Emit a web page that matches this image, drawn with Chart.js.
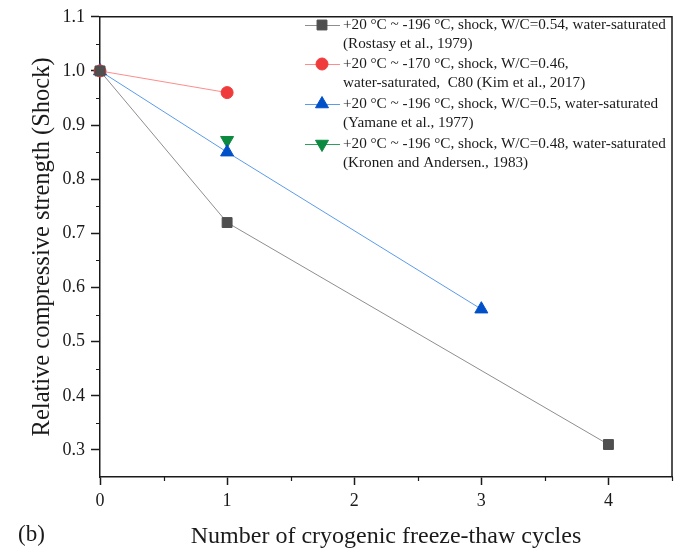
<!DOCTYPE html>
<html>
<head>
<meta charset="utf-8">
<script src="https://cdn.jsdelivr.net/npm/chart.js@4.4.0/dist/chart.umd.min.js"></script>
<style>
  html, body { margin: 0; padding: 0; background: #fff; }
  #wrap { width: 681px; height: 548px; }
</style>
</head>
<body>
<div id="wrap"><canvas id="myChart" width="681" height="548"></canvas></div>
<script>
// x ticks (cycles) and y ticks
const xTickValues = [0, 1, 2, 3, 4];
const yTickValues = [0.3, 0.4, 0.5, 0.6, 0.7, 0.8, 0.9, 1.0, 1.1];

// series
const rostasyX = [0, 1, 4];
const rostasyY = [1.0, 0.72, 0.31];
const kimX = [0, 1];
const kimY = [1.0, 0.96];
const yamaneX = [0, 1, 3];
const yamaneY = [1.0, 0.85, 0.56];
const kronenX = [1];
const kronenY = [0.872];

const legendLine1 = [
  '+20 °C ~ -196 °C, shock, W/C=0.54, water-saturated',
  '+20 °C ~ -170 °C, shock, W/C=0.46,',
  '+20 °C ~ -196 °C, shock, W/C=0.5, water-saturated',
  '+20 °C ~ -196 °C, shock, W/C=0.48, water-saturated'
];
const legendLine2 = [
  '(Rostasy et al., 1979)',
  'water-saturated,  C80 (Kim et al., 2017)',
  '(Yamane et al., 1977)',
  '(Kronen and Andersen., 1983)'
];

const serif = '"Liberation Serif", "Times New Roman", serif';
const ink = '#1a1a1a';

const toPoints = (xs, ys) => xs.map((x, i) => ({ x, y: ys[i] }));

const datasets = [
  {
    label: legendLine1[0],
    data: toPoints(rostasyX, rostasyY),
    borderColor: '#8e8e8e',
    backgroundColor: '#4f4f4f',
    pointBorderColor: '#4f4f4f',
    pointStyle: 'rect',
    pointRadius: 7,
    rotation: 0
  },
  {
    label: legendLine1[1],
    data: toPoints(kimX, kimY),
    borderColor: '#ff8c8c',
    backgroundColor: '#ef3b3b',
    pointBorderColor: '#ef3b3b',
    pointStyle: 'circle',
    pointRadius: 6,
    rotation: 0
  },
  {
    label: legendLine1[2],
    data: toPoints(yamaneX, yamaneY),
    borderColor: '#5b9bea',
    backgroundColor: '#0050c8',
    pointBorderColor: '#0050c8',
    pointStyle: 'triangle',
    pointRadius: 7.5,
    rotation: 0
  },
  {
    label: legendLine1[3],
    data: toPoints(kronenX, kronenY),
    borderColor: '#2f9e5c',
    backgroundColor: '#0c8a40',
    pointBorderColor: '#0c8a40',
    pointStyle: 'triangle',
    pointRadius: 7.5,
    rotation: 180
  }
].map(d => ({ ...d, showLine: true, clip: false, borderWidth: 1, pointBorderWidth: 1, pointHoverRadius: d.pointRadius, pointRotation: d.rotation }));

// frame on top/right, minor ticks, custom legend, panel letter
const decorations = {
  id: 'decorations',
  afterDraw(chart) {
    const { ctx, chartArea: a, scales } = chart;
    ctx.save();
    ctx.strokeStyle = ink;
    ctx.lineWidth = 1.5;
    ctx.beginPath();
    ctx.moveTo(a.left, a.top);
    ctx.lineTo(a.right, a.top);
    ctx.lineTo(a.right, a.bottom);
    ctx.stroke();

    // minor ticks
    ctx.lineWidth = 1.2;
    ctx.beginPath();
    for (let v = 0.35; v < 1.1; v += 0.1) {
      const y = Math.round(scales.y.getPixelForValue(v)) + 0.5;
      ctx.moveTo(a.left, y);
      ctx.lineTo(a.left - 4, y);
    }
    for (let v = 0.5; v <= 4.5; v += 1) {
      const x = Math.round(scales.x.getPixelForValue(v)) + 0.5;
      ctx.moveTo(x, a.bottom);
      ctx.lineTo(x, a.bottom + 4);
    }
    ctx.stroke();

    // legend
    const rowY = [25, 64, 104, 144];
    ctx.font = '15.2px ' + serif;
    ctx.textBaseline = 'middle';
    ctx.textAlign = 'left';
    chart.data.datasets.forEach((ds, i) => {
      const y = rowY[i];
      ctx.strokeStyle = ds.borderColor;
      ctx.lineWidth = 1;
      ctx.beginPath();
      ctx.moveTo(305, y + 0.5);
      ctx.lineTo(340, y + 0.5);
      ctx.stroke();
      ctx.fillStyle = ds.backgroundColor;
      ctx.strokeStyle = ds.pointBorderColor;
      Chart.helpers.drawPoint(ctx, {
        pointStyle: ds.pointStyle,
        radius: ds.pointRadius,
        rotation: ds.rotation,
        borderWidth: 1
      }, 322, y);
      ctx.fillStyle = ink;
      ctx.fillText(legendLine1[i], 343, y);
      ctx.fillText(legendLine2[i], 343, y + 19.5);
    });

    ctx.font = '23px ' + serif;
    ctx.fillText('(b)', 18, 535);
    ctx.restore();
  }
};

new Chart(document.getElementById('myChart'), {
  type: 'scatter',
  data: { datasets },
  options: {
    responsive: false,
    animation: false,
    layout: { padding: { top: 16, right: 9, left: 0, bottom: 0 } },
    plugins: { legend: { display: false }, tooltip: { enabled: false } },
    scales: {
      x: {
        type: 'linear',
        min: 0,
        max: 4.5,
        afterBuildTicks: s => { s.ticks = xTickValues.map(v => ({ value: v })); },
        afterFit: s => { s.height = 71; },
        grid: { drawOnChartArea: false, tickLength: 8, tickColor: ink, tickWidth: 1.5 },
        border: { display: true, color: ink, width: 1.5 },
        ticks: {
          color: ink,
          padding: 5,
          font: { family: serif, size: 18 },
          callback: v => String(v)
        },
        title: {
          display: true,
          text: 'Number of cryogenic freeze-thaw cycles',
          color: ink,
          font: { family: serif, size: 24, lineHeight: 1 },
          padding: { top: 0, bottom: -1 }
        }
      },
      y: {
        type: 'linear',
        min: 0.25,
        max: 1.1,
        afterBuildTicks: s => { s.ticks = yTickValues.map(v => ({ value: v })); },
        afterFit: s => { s.width = 100; },
        grid: { drawOnChartArea: false, tickLength: 9, tickColor: ink, tickWidth: 1.5 },
        border: { display: true, color: ink, width: 1.5 },
        ticks: {
          color: ink,
          padding: 6,
          font: { family: serif, size: 18 },
          callback: v => Number(v).toFixed(1)
        },
        title: {
          display: true,
          text: 'Relative compressive strength (Shock)',
          color: ink,
          font: { family: serif, size: 24.5, lineHeight: 1.2 },
          padding: { top: 28, bottom: 0 }
        }
      }
    }
  },
  plugins: [decorations]
});
</script>
</body>
</html>
